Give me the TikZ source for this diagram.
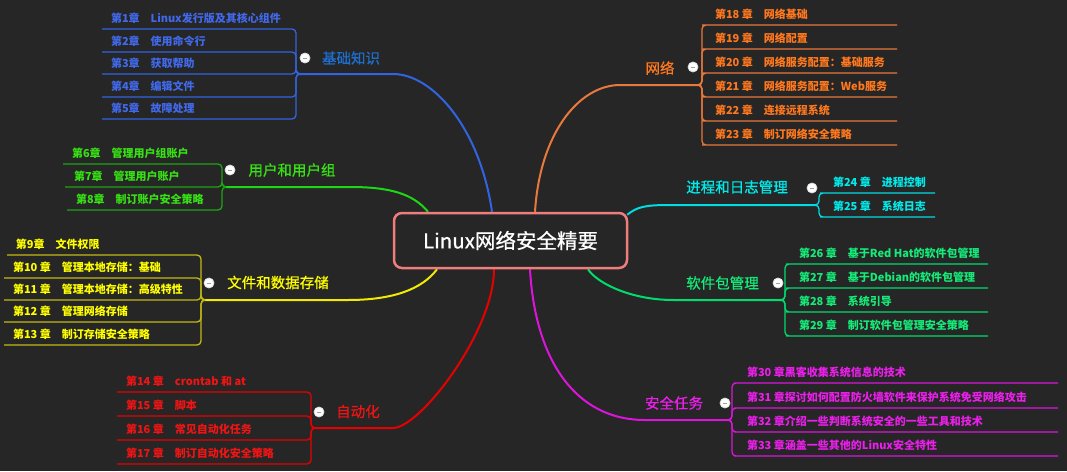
\documentclass[tikz,border=0pt]{standalone}
\usepackage{fontspec}
\setmainfont{Noto Sans CJK SC}
\newfontfamily\heavycjk{Noto Sans CJK SC}[FakeBold=0.7]
\definecolor{bg}{RGB}{38,38,38}
\definecolor{rootc}{RGB}{240,125,125}
\definecolor{bline}{RGB}{50,100,225}
\definecolor{btext}{RGB}{65,105,235}
\definecolor{blabel}{RGB}{30,110,205}
\definecolor{uline}{RGB}{30,215,20}
\definecolor{usub}{RGB}{30,165,20}
\definecolor{utext}{RGB}{55,225,20}
\definecolor{yline}{RGB}{240,235,0}
\definecolor{ysub}{RGB}{195,185,20}
\definecolor{ytext}{RGB}{255,255,0}
\definecolor{rline}{RGB}{230,0,0}
\definecolor{rtext}{RGB}{240,20,20}
\definecolor{oline}{RGB}{232,120,60}
\definecolor{otext}{RGB}{255,120,30}
\definecolor{cline}{RGB}{0,220,225}
\definecolor{ctext}{RGB}{0,235,235}
\definecolor{sline}{RGB}{0,220,110}
\definecolor{stext}{RGB}{20,235,120}
\definecolor{mline}{RGB}{220,20,220}
\definecolor{mtext}{RGB}{235,30,235}
\newcommand{\chapgap}{\hspace{11pt}}
\pgfdeclarelayer{back}
\pgfsetlayers{back,main}

\begin{document}
\begin{tikzpicture}[x=1pt,y=-1pt,
    root node/.style={draw=rootc,line width=2.5,rounded corners=8,fill=bg,text=white,
      minimum width=233,minimum height=55,font=\heavycjk\fontsize{20.5}{23}\selectfont},
    topic node/.style={inner sep=0,font=\heavycjk\fontsize{14.5}{17}\selectfont},
    chap node/.style={anchor=south west,inner xsep=9,inner ysep=7,text depth=0pt,
      outer sep=0,font=\bfseries\fontsize{11}{13}\selectfont},
    fold node/.style={circle,fill=white,draw=white!75!gray,line width=0.8,inner sep=0,minimum size=10,
      path picture={\draw[gray!75,line width=0.9]
        ([xshift=-2.3pt]path picture bounding box.center) --
        ([xshift=2.3pt]path picture bounding box.center);}},
    main line/.style={line width=2},
    sub line/.style={line width=1.3,rounded corners=4}]

  \useasboundingbox (0,0) rectangle (1067,471);
  \node[root node] (root) at (510.5,240.5) {Linux网络安全精要};

  % basic knowledge
  \coordinate (jb) at (300,74);
  \coordinate (tb) at (393,74);
  \foreach \n/\y/\t in {1/29/{第1章\chapgap Linux发行版及其核心组件},
      2/52/{第2章\chapgap 使用命令行},3/74/{第3章\chapgap 获取帮助},
      4/97/{第4章\chapgap 编辑文件},5/119/{第5章\chapgap 故障处理}}
    \node[chap node,text=btext] (c\n) at (102,\y) {\t};
  \foreach \n in {1,...,5}
    \draw[sub line,bline] (jb) -- ++(-4,0) |- (c\n.south west);
  \node[topic node,text=blabel] (basic) at (351,58) {基础知识};
  \node[fold node] (fb) at (305,58) {};

  % users and groups
  \coordinate (ju) at (226,187);
  \coordinate (tu) at (350,187);
  \foreach \n/\x/\y/\t in {6/63/164/{第6章\chapgap 管理用户组账户},
      7/65/187/{第7章\chapgap 管理用户账户},8/67/210/{第8章\chapgap 制订账户安全策略}}
    \node[chap node,text=utext] (c\n) at (\x,\y) {\t};
  \foreach \n in {6,7,8}
    \draw[sub line,usub] (ju) -- ++(-4,0) |- (c\n.south west);
  \node[topic node,text=utext] (users) at (292,170) {用户和用户组};
  \node[fold node] (fu) at (230,170) {};

  % files and storage
  \coordinate (jy) at (205,300);
  \coordinate (ty) at (348,300);
  \foreach \n/\x/\y/\t in {9/7/255/{第9章\chapgap 文件权限},
      10/4/278/{第10 章\chapgap 管理本地存储：基础},11/4/300/{第11 章\chapgap 管理本地存储：高级特性},
      12/4/322/{第12 章\chapgap 管理网络存储},13/4/345/{第13 章\chapgap 制订存储安全策略}}
    \node[chap node,text=ytext] (c\n) at (\x,\y) {\t};
  \foreach \n in {9,...,13}
    \draw[sub line,ysub] (jy) -- ++(-4,0) |- (c\n.south west);
  \node[topic node,text=ytext] (files) at (278,282.5) {文件和数据存储};
  \node[fold node] (fy) at (209,283) {};

  % automation
  \coordinate (jr) at (316,428);
  \coordinate (tr) at (393,428);
  \foreach \n/\y/\t in {14/392/{第14 章\chapgap crontab 和 at},15/416/{第15 章\chapgap 脚本},
      16/440/{第16 章\chapgap 常见自动化任务},17/464/{第17 章\chapgap 制订自动化安全策略}}
    \node[chap node,text=rtext] (c\n) at (117,\y) {\t};
  \foreach \n in {14,...,17}
    \draw[sub line,rline] (jr) -- ++(-5,0) |- (c\n.south west);
  \node[topic node,text=rtext] (auto) at (358,411.5) {自动化};
  \node[fold node] (fr) at (319,412) {};

  % network
  \coordinate (jo) at (698,85);
  \coordinate (to) at (620,85);
  \coordinate (oend) at (897,0);
  \foreach \n/\y/\t in {18/25/{第18 章\chapgap 网络基础},19/49/{第19 章\chapgap 网络配置},
      20/73/{第20 章\chapgap 网络服务配置：基础服务},21/97/{第21 章\chapgap 网络服务配置：Web服务},
      22/121/{第22 章\chapgap 连接远程系统},23/145/{第23 章\chapgap 制订网络安全策略}}
    \node[chap node,text=otext] (c\n) at (706,\y) {\t};
  \foreach \n in {18,...,23}
    \draw[sub line,oline] (jo) -- ++(4,0) |- (c\n.south west) -- (c\n.south west -| oend);
  \node[topic node,text=otext] (net) at (660,68) {网络};
  \node[fold node] (fo) at (693,67) {};

  % processes and logs
  \coordinate (jc) at (815,205);
  \coordinate (tc) at (670,205);
  \coordinate (cend) at (935,0);
  \foreach \n/\y/\t in {24/193/{第24 章\chapgap 进程控制},25/217/{第25 章\chapgap 系统日志}}
    \node[chap node,text=ctext] (c\n) at (824,\y) {\t};
  \foreach \n in {24,25}
    \draw[sub line,cline] (jc) -- ++(4,0) |- (c\n.south west) -- (c\n.south west -| cend);
  \node[topic node,text=ctext] (proc) at (737,187) {进程和日志管理};
  \node[fold node] (fc) at (812,188) {};

  % packages
  \coordinate (js) at (781,300);
  \coordinate (ts) at (673,300);
  \coordinate (send) at (988,0);
  \foreach \n/\y/\t in {26/264/{第26 章\chapgap 基于Red Hat的软件包管理},
      27/288/{第27 章\chapgap 基于Debian的软件包管理},28/312/{第28 章\chapgap 系统引导},
      29/336/{第29 章\chapgap 制订软件包管理安全策略}}
    \node[chap node,text=stext] (c\n) at (790,\y) {\t};
  \foreach \n in {26,...,29}
    \draw[sub line,sline] (js) -- ++(4,0) |- (c\n.south west) -- (c\n.south west -| send);
  \node[topic node,text=stext] (pkg) at (722.5,283) {软件包管理};
  \node[fold node] (fs) at (778,283) {};

  % security tasks
  \coordinate (jm) at (728,420);
  \coordinate (tm) at (645,420);
  \coordinate (mend) at (1058,0);
  \foreach \n/\y/\t in {30/383/{第30 章黑客收集系统信息的技术},
      31/408/{第31 章探讨如何配置防火墙软件来保护系统免受网络攻击},
      32/432/{第32 章介绍一些判断系统安全的一些工具和技术},
      33/456/{第33 章涵盖一些其他的Linux安全特性}}
    \node[chap node,text=mtext] (c\n) at (738,\y) {\t};
  \foreach \n in {30,...,33}
    \draw[sub line,mline] (jm) -- ++(4,0) |- (c\n.south west) -- (c\n.south west -| mend);
  \node[topic node,text=mtext] (sec) at (674,403) {安全任务};
  \node[fold node] (fm) at (725,403) {};

  \begin{pgfonlayer}{back}
    \fill[bg] (0,0) rectangle (1067,471);
    \draw[main line,bline] (jb) -- (tb) .. controls +(40,0) and +(-12,-83) .. ([xshift=-18.5pt]root.north);
    \draw[main line,uline] (ju) -- (tu) .. controls +(40,0) and +(-15,-18) .. ([xshift=-82.5pt]root.north);
    \draw[main line,yline] (jy) -- (ty) .. controls +(45,0) and +(-15,20) .. ([xshift=-73.5pt]root.south);
    \draw[main line,rline] (jr) -- (tr) .. controls +(27,0) and +(0,62) .. ([xshift=-16.5pt]root.south);
    \draw[main line,oline] (jo) -- (to) .. controls +(-40,0) and +(5,-80) .. ([xshift=24.5pt]root.north);
    \draw[main line,cline] (jc) -- (tc) .. controls +(-25,0) and +(10,-8) .. ([shift={(-1pt,-3pt)}]root.north east);
    \draw[main line,sline] (js) -- (ts) .. controls +(-40,0) and +(10,15) .. ([xshift=77.5pt]root.south);
    \draw[main line,mline] (jm) -- (tm) .. controls +(-70,0) and +(5,90) .. ([xshift=19.5pt]root.south);
  \end{pgfonlayer}
\end{tikzpicture}
\end{document}
